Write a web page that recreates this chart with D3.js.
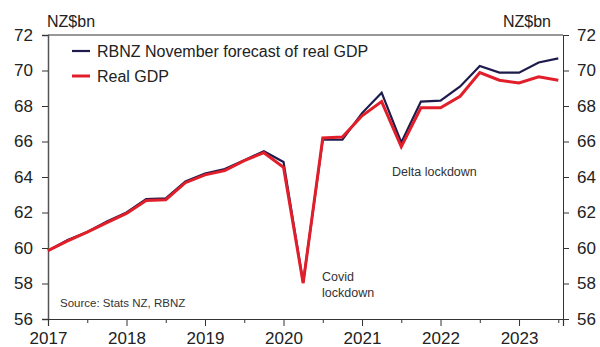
<!DOCTYPE html>
<html>
<head>
<meta charset="utf-8">
<script src="https://cdn.jsdelivr.net/npm/d3@7"></script>
<style>
  body { margin: 0; background: #fff; }
  svg { font-family: "Liberation Sans", Arial, sans-serif; }
</style>
</head>
<body>
<div id="chart"></div>
<script>
// Data
const quarters = [
  "2017Q1", "2017Q2", "2017Q3", "2017Q4",
  "2018Q1", "2018Q2", "2018Q3", "2018Q4",
  "2019Q1", "2019Q2", "2019Q3", "2019Q4",
  "2020Q1", "2020Q2", "2020Q3", "2020Q4",
  "2021Q1", "2021Q2", "2021Q3", "2021Q4",
  "2022Q1", "2022Q2", "2022Q3", "2022Q4",
  "2023Q1", "2023Q2", "2023Q3"
];
const rbnzForecast = [
  59.85, 60.45, 60.9, 61.5, 62.0, 62.75, 62.8, 63.75,
  64.2, 64.45, 64.95, 65.45, 64.85, 58.05, 66.1, 66.1,
  67.6, 68.75, 65.95, 68.25, 68.3, 69.1, 70.25, 69.88,
  69.88, 70.45, 70.68
];
const realGdp = [
  59.85, 60.4, 60.9, 61.43, 61.95, 62.68, 62.72, 63.68,
  64.12, 64.36, 64.92, 65.37, 64.55, 58.02, 66.2, 66.25,
  67.45, 68.25, 65.7, 67.9, 67.9, 68.55, 69.88, 69.45,
  69.3, 69.65, 69.45
];
const yearTicks = [2017, 2018, 2019, 2020, 2021, 2022, 2023];
const yTicks = [56, 58, 60, 62, 64, 66, 68, 70, 72];

const W = 600, H = 347;
const margin = { top: 35, right: 37, bottom: 28, left: 48 };
const width = W - margin.left - margin.right;
const height = H - margin.top - margin.bottom;

const navy = "#1d1b4c";
const red = "#e01f2b";
const axisColor = "#333";

const svg = d3.select("#chart").append("svg")
  .attr("width", W)
  .attr("height", H);

const g = svg.append("g")
  .attr("transform", `translate(${margin.left},${margin.top})`);

// quarter label -> decimal year
const toYear = q => +q.slice(0, 4) + (+q.slice(5) - 1) / 4;

const x = d3.scaleLinear()
  .domain([2017, 2023.56])
  .range([0, width]);

const y = d3.scaleLinear()
  .domain([56, 72])
  .range([height, 0]);

// Frame top line
g.append("line")
  .attr("x1", 0).attr("x2", width)
  .attr("y1", 0).attr("y2", 0)
  .style("stroke", axisColor)
  .style("stroke-width", 1);

// Left axis
const yLeft = g.append("g")
  .call(d3.axisLeft(y).tickValues(yTicks).tickSize(6).tickPadding(9));
yLeft.select(".domain").style("stroke", "#555").style("stroke-width", 1.5);

// Right axis
const yRight = g.append("g")
  .attr("transform", `translate(${width},0)`)
  .call(d3.axisRight(y).tickValues(yTicks).tickSize(6).tickPadding(8));
yRight.select(".domain").style("stroke", axisColor);

[yLeft, yRight].forEach(a => {
  a.selectAll(".tick line").style("stroke", axisColor);
  a.selectAll(".tick text")
    .style("font-size", "17px")
    .style("fill", "#222")
    .style("font-family", "'Liberation Sans', Arial, sans-serif");
});

// Bottom axis: half-year minor ticks + year ticks
const minorTicks = yearTicks.map(yr => yr + 0.5);
g.append("g")
  .attr("transform", `translate(0,${height})`)
  .call(d3.axisBottom(x).tickValues(minorTicks).tickSize(4).tickFormat(""))
  .call(a => a.select(".domain").remove())
  .selectAll(".tick line").style("stroke", axisColor);

const xAxis = g.append("g")
  .attr("transform", `translate(0,${height})`)
  .call(d3.axisBottom(x).tickValues(yearTicks).tickSize(7).tickPadding(6)
    .tickFormat(d3.format("d")));
xAxis.select(".domain").style("stroke", axisColor).style("stroke-width", 1.2);
xAxis.selectAll(".tick line").style("stroke", axisColor);
xAxis.selectAll(".tick text")
  .style("font-size", "17px")
  .style("fill", "#222")
  .style("font-family", "'Liberation Sans', Arial, sans-serif");

// Lines
const line = d3.line()
  .x((d, i) => x(toYear(quarters[i])))
  .y(d => y(d));

g.append("path")
  .datum(rbnzForecast)
  .attr("d", line)
  .style("fill", "none")
  .style("stroke", navy)
  .style("stroke-width", 2.2)
  .style("stroke-linejoin", "miter");

g.append("path")
  .datum(realGdp)
  .attr("d", line)
  .style("fill", "none")
  .style("stroke", red)
  .style("stroke-width", 3)
  .style("stroke-linejoin", "miter");

// Unit labels
svg.append("text")
  .attr("x", 47).attr("y", 27)
  .style("font-size", "16px").style("fill", "#222")
  .text("NZ$bn");
svg.append("text")
  .attr("x", 551).attr("y", 27)
  .attr("text-anchor", "end")
  .style("font-size", "16px").style("fill", "#222")
  .text("NZ$bn");

// Legend
const legend = [
  { label: "RBNZ November forecast of real GDP", color: navy, w: 2.2, yy: 51 },
  { label: "Real GDP", color: red, w: 3, yy: 76 }
];
legend.forEach(l => {
  svg.append("line")
    .attr("x1", 72).attr("x2", 90)
    .attr("y1", l.yy).attr("y2", l.yy)
    .style("stroke", l.color)
    .style("stroke-width", l.w);
  svg.append("text")
    .attr("x", 97).attr("y", l.yy)
    .attr("dy", "0.35em")
    .style("font-size", "16px").style("fill", "#222")
    .text(l.label);
});

// Annotations
const note = (tx, ty, s) => svg.append("text")
  .attr("x", tx).attr("y", ty)
  .style("font-size", "12.5px").style("fill", "#333")
  .text(s);
note(322, 281, "Covid");
note(322, 297, "lockdown");
note(392, 176, "Delta lockdown");

svg.append("text")
  .attr("x", 60).attr("y", 307)
  .style("font-size", "11.5px").style("fill", "#333")
  .text("Source: Stats NZ, RBNZ");
</script>
</body>
</html>
